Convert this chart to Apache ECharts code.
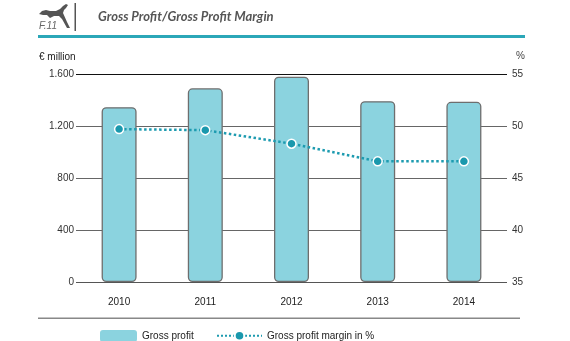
<!DOCTYPE html>
<html><head><meta charset="utf-8">
<script src="https://cdn.jsdelivr.net/npm/echarts@6/dist/echarts.min.js"></script>
<style>html,body{margin:0;padding:0;background:#fff}#c{width:570px;height:341px}</style>
</head><body><div id="c"></div>
<script>
const years = ['2010','2011','2012','2013','2014'];
const grossProfit = [1345, 1490, 1579, 1391, 1386];
const grossMargin = [49.7, 49.6, 48.3, 46.6, 46.6];
const leftTicks = {0:'0',400:'400',800:'800',1200:'1.200',1600:'1.600'};
const rightTicks = {35:'35',40:'40',45:'45',50:'50',55:'55'};

const FONT = '"Liberation Sans", Arial, sans-serif';
const chart = echarts.init(document.getElementById('c'), null, {renderer:'canvas'});
chart.setOption({
  animation:false,
  grid:{left:76, right:63, top:74, bottom:59},
  xAxis:{type:'category', data:years, axisLine:{show:false}, axisTick:{show:false},
    axisLabel:{margin:15, fontFamily:FONT, fontSize:10, color:'#222'}},
  yAxis:[
    {type:'value', min:0, max:1600, interval:400, axisLine:{show:false}, axisTick:{show:false},
     axisLabel:{margin:2, fontFamily:FONT, fontSize:10, color:'#333', formatter:v=>leftTicks[v]},
     splitLine:{lineStyle:{color:['#555','#666','#666','#666','#111'], width:1.2}}},
    {type:'value', min:35, max:55, interval:5, axisLine:{show:false}, axisTick:{show:false},
     axisLabel:{margin:5, fontFamily:FONT, fontSize:10, color:'#333', formatter:v=>rightTicks[v]},
     splitLine:{show:false}}
  ],
  legend:[
    {data:['Gross profit'], left:100, top:330, padding:0, itemWidth:37, itemHeight:12, itemGap:4,
     itemStyle:{borderWidth:0}, textStyle:{fontFamily:FONT, fontSize:10, color:'#222'}},
    {data:['Gross profit margin in %'], left:216, top:330, padding:0, itemWidth:45, itemHeight:12,
     textStyle:{fontFamily:FONT, fontSize:10, color:'#222'}}
  ],
  series:[
    {name:'Gross profit', type:'bar', data:grossProfit, barWidth:35,
     itemStyle:{color:'#8bd3df', borderColor:'#6e6e6e', borderWidth:1.3, borderRadius:4}},
    {name:'Gross profit margin in %', type:'line', yAxisIndex:1, data:grossMargin,
     symbol:'circle', symbolSize:9, z:5,
     lineStyle:{type:'dotted', width:2.5, color:'#1d9bb0'},
     itemStyle:{color:'#1a98ad', borderColor:'#fff', borderWidth:1.5}}
  ],
  graphic:[
    {type:'polygon', shape:{points:[[39,14],[42,11],[46,10],[50,11],[56,11],[60,9],[63,6],[66,4],[68,5],[66,8],[64,10],[63,13],[67,22],[70,28],[67,28],[62,19],[59,16],[54,16],[50,18],[47,15],[43,15]]}, style:{fill:'#555'}},
    {type:'text', left:39, top:21, style:{text:'F.11', font:'italic 10px "Liberation Sans", Arial', fill:'#666'}},
    {type:'rect', shape:{x:74.5, y:3, width:1.5, height:28}, style:{fill:'#555'}},
    {type:'text', left:98, top:10, style:{text:'Gross Profit/Gross Profit Margin', font:'italic bold 13px Lato, "DejaVu Sans", sans-serif', fill:'#555'}},
    {type:'rect', shape:{x:38, y:35, width:487, height:3}, style:{fill:'#2ba7b8'}},
    {type:'text', left:39, top:52, style:{text:'€ million', font:'10px "Liberation Sans", Arial', fill:'#222'}},
    {type:'text', left:516, top:51, style:{text:'%', font:'10px "Liberation Sans", Arial', fill:'#444'}},
    {type:'rect', shape:{x:38, y:317.5, width:482, height:1.5}, style:{fill:'#888'}}
  ]
});
</script></body></html>
